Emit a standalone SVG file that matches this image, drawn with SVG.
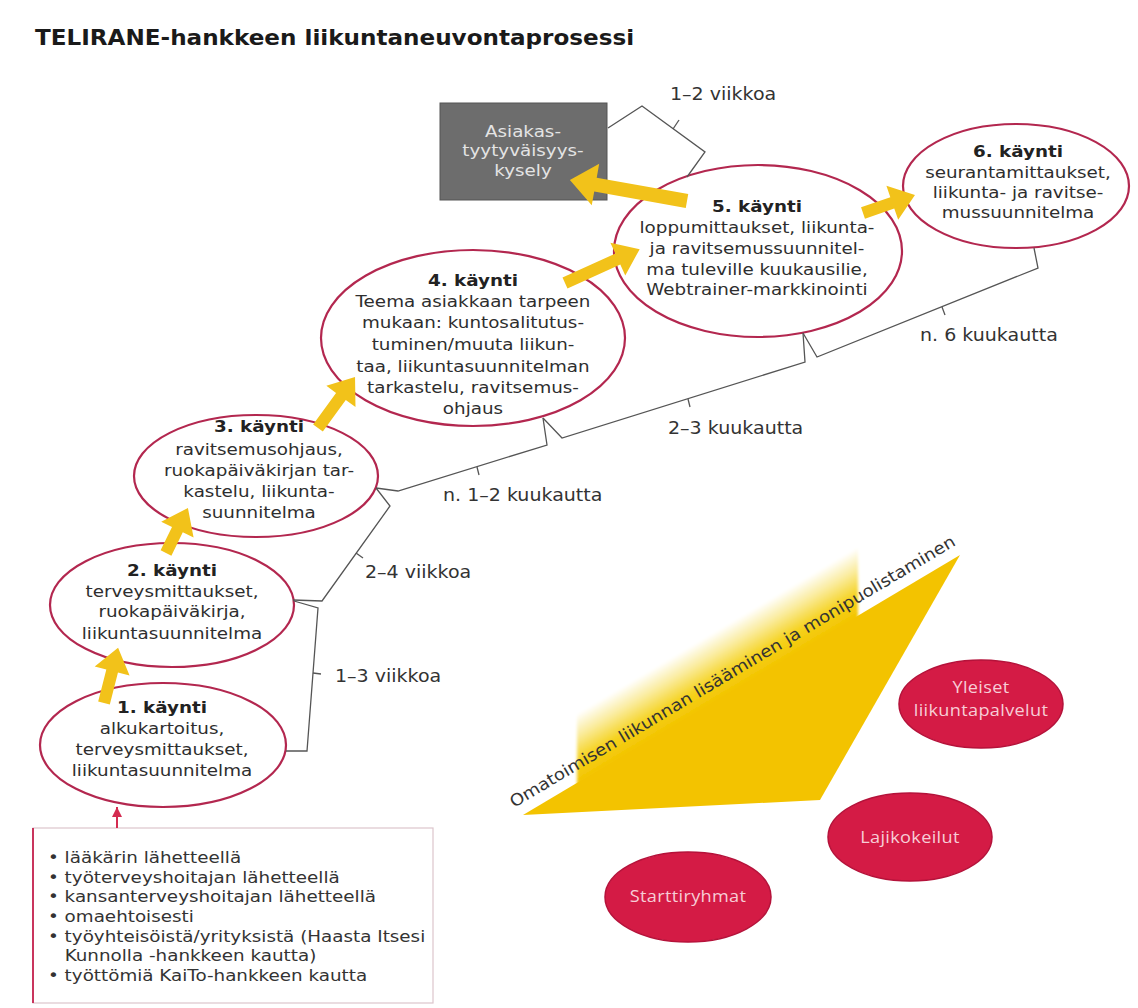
<svg xmlns="http://www.w3.org/2000/svg" width="1138" height="1008" viewBox="0 0 1138 1008">
<defs>
<style>
.e{fill:#fff;stroke:#b3274f;stroke-width:2.2}
.t{font-family:"DejaVu Sans",Verdana,sans-serif;font-size:16.5px;fill:#2e2e2e}
.b{font-weight:bold;fill:#222}
.lb{font-family:"DejaVu Sans",Verdana,sans-serif;font-size:17px;fill:#333}
.br{fill:none;stroke:#555;stroke-width:1.3}
.ya{fill:#f2c21a}
.re{fill:#d41b45;stroke:#b5123a;stroke-width:1.5}
.rt{font-family:"Open Sans","Noto Sans",sans-serif;font-size:16.5px;fill:#f7cdd6;letter-spacing:0.3px}
.gt{font-family:"DejaVu Sans",Verdana,sans-serif;font-size:16.5px;fill:#e4e4e4}
</style>
<linearGradient id="fade" gradientUnits="userSpaceOnUse" x1="717" y1="700" x2="679" y2="636">
<stop offset="0" stop-color="#f3c400"/>
<stop offset="0.25" stop-color="#f5d21e"/>
<stop offset="0.55" stop-color="#faeca0"/>
<stop offset="0.8" stop-color="#ffffff"/>
</linearGradient>
<filter id="soft" x="-10%" y="-10%" width="120%" height="120%">
<feGaussianBlur stdDeviation="1.5"/>
</filter>
<marker id="redhead" viewBox="0 0 10 10" refX="10" refY="5" markerWidth="10" markerHeight="10" markerUnits="userSpaceOnUse" orient="auto">
<path d="M0,0 L10,5 L0,10 z" fill="#d42b50"/>
</marker>
</defs>
<rect width="1138" height="1008" fill="#fff"/>

<text x="0" y="45" transform="translate(35 0) scale(1.1 1)" style="font-family:'DejaVu Sans',Verdana,sans-serif;font-size:21px;font-weight:bold;fill:#1a1a1a">TELIRANE-hankkeen liikuntaneuvontaprosessi</text>

<!-- big yellow arrow -->
<g id="big-arrow">
<polygon points="577,706 858,540 858,620 577,786" fill="url(#fade)" filter="url(#soft)"/>
<polygon points="523,815 960,555 820,800" fill="#f3c300"/>
<text class="t" x="0" y="0" transform="translate(514 808) rotate(-30.75) scale(1.1 1)" style="fill:#333">Omatoimisen liikunnan lisääminen ja monipuolistaminen</text>
</g>

<g id="kysely">
<rect x="440" y="103" width="167" height="97" fill="#6d6d6d" stroke="#555" stroke-width="1"/>
<g transform="translate(523 0) scale(1.11 1)">
<text class="gt" text-anchor="middle"><tspan x="0" y="137">Asiakas-</tspan><tspan x="0" y="156">tyytyväisyys-</tspan><tspan x="0" y="176">kysely</tspan></text>
</g>
</g>

<g id="kaynti1">
<ellipse class="e" cx="163" cy="745" rx="123" ry="62"/>
<g transform="translate(162 0) scale(1.11 1)">
<text class="t" text-anchor="middle"><tspan class="b" x="0" y="713">1. käynti</tspan><tspan x="0" y="734">alkukartoitus,</tspan><tspan x="0" y="755">terveysmittaukset,</tspan><tspan x="0" y="776">liikuntasuunnitelma</tspan></text>
</g>
</g>

<g id="kaynti2">
<ellipse class="e" cx="172" cy="605" rx="122" ry="62"/>
<g transform="translate(172 0) scale(1.11 1)">
<text class="t" text-anchor="middle"><tspan class="b" x="0" y="576">2. käynti</tspan><tspan x="0" y="597">terveysmittaukset,</tspan><tspan x="0" y="617">ruokapäiväkirja,</tspan><tspan x="0" y="639">liikuntasuunnitelma</tspan></text>
</g>
</g>

<g id="kaynti3">
<ellipse class="e" cx="256" cy="476" rx="122" ry="61"/>
<g transform="translate(259 0) scale(1.11 1)">
<text class="t" text-anchor="middle"><tspan class="b" x="0" y="432">3. käynti</tspan><tspan x="0" y="455">ravitsemusohjaus,</tspan><tspan x="0" y="476">ruokapäiväkirjan tar-</tspan><tspan x="0" y="497">kastelu, liikunta-</tspan><tspan x="0" y="518">suunnitelma</tspan></text>
</g>
</g>

<g id="kaynti4">
<ellipse class="e" cx="473" cy="338" rx="152" ry="88"/>
<g transform="translate(473 0) scale(1.11 1)">
<text class="t" text-anchor="middle"><tspan class="b" x="0" y="286">4. käynti</tspan><tspan x="0" y="307">Teema asiakkaan tarpeen</tspan><tspan x="0" y="328">mukaan: kuntosalitutus-</tspan><tspan x="0" y="350">tuminen/muuta liikun-</tspan><tspan x="0" y="372">taa, liikuntasuunnitelman</tspan><tspan x="0" y="393">tarkastelu, ravitsemus-</tspan><tspan x="0" y="414">ohjaus</tspan></text>
</g>
</g>

<g id="kaynti5">
<ellipse class="e" cx="758" cy="251" rx="144" ry="86"/>
<g transform="translate(757 0) scale(1.11 1)">
<text class="t" text-anchor="middle"><tspan class="b" x="0" y="212">5. käynti</tspan><tspan x="0" y="233">loppumittaukset, liikunta-</tspan><tspan x="0" y="254">ja ravitsemussuunnitel-</tspan><tspan x="0" y="275">ma tuleville kuukausilie,</tspan><tspan x="0" y="295">Webtrainer-markkinointi</tspan></text>
</g>
</g>

<g id="kaynti6">
<ellipse class="e" cx="1016" cy="186" rx="113" ry="62"/>
<g transform="translate(1018 0) scale(1.11 1)">
<text class="t" text-anchor="middle"><tspan class="b" x="0" y="157">6. käynti</tspan><tspan x="0" y="178">seurantamittaukset,</tspan><tspan x="0" y="198">liikunta- ja ravitse-</tspan><tspan x="0" y="218">mussuunnitelma</tspan></text>
</g>
</g>

<g id="lahde">
<rect x="33" y="828" width="400" height="175" fill="#fff" stroke="#dcc5cc" stroke-width="1.2"/>
<line x1="33" y1="828" x2="33" y2="1003" stroke="#c9355d" stroke-width="2"/>
<g transform="translate(48 0) scale(1.11 1)">
<text class="t" style="fill:#333"><tspan x="0" y="863">• lääkärin lähetteellä</tspan><tspan x="0" y="883">• työterveyshoitajan lähetteellä</tspan><tspan x="0" y="902">• kansanterveyshoitajan lähetteellä</tspan><tspan x="0" y="922">• omaehtoisesti</tspan><tspan x="0" y="942">• työyhteisöistä/yrityksistä (Haasta Itsesi</tspan><tspan x="15" y="961">Kunnolla -hankkeen kautta)</tspan><tspan x="0" y="981">• työttömiä KaiTo-hankkeen kautta</tspan></text>
</g>
</g>

<g id="yleiset">
<ellipse class="re" cx="981" cy="704" rx="82" ry="44"/>
<g transform="translate(981 0) scale(1.1 1)">
<text class="rt" text-anchor="middle"><tspan x="0" y="693">Yleiset</tspan><tspan x="0" y="716">liikuntapalvelut</tspan></text>
</g>
</g>
<g id="lajikokeilut">
<ellipse class="re" cx="910" cy="837" rx="82" ry="44"/>
<g transform="translate(910 0) scale(1.1 1)">
<text class="rt" text-anchor="middle" x="0" y="843">Lajikokeilut</text>
</g>
</g>
<g id="starttiryhmat">
<ellipse class="re" cx="688" cy="897" rx="83" ry="45"/>
<g transform="translate(688 0) scale(1.1 1)">
<text class="rt" text-anchor="middle" x="0" y="902">Starttiryhmat</text>
</g>
</g>

<g id="connectors">
<!-- brackets -->
<path class="br" d="M608,128 L642,106 L705,152 L687,177"/>
<path class="br" d="M673,129 L679,120"/>
<path class="br" d="M803,333 L817,357 L1038,268 L1034,248"/>
<path class="br" d="M942,307 L945,315"/>
<path class="br" d="M543,418 L562,438 L805,362 L803,333"/>
<path class="br" d="M688,399 L690,407"/>
<path class="br" d="M376,488 L398,491 L547,445 L543,418"/>
<path class="br" d="M477,467 L479,475"/>
<path class="br" d="M293,600 L322,601 L390,506 L376,488"/>
<path class="br" d="M356,553 L363,558"/>
<path class="br" d="M286,751 L307,751 L318,608 L294,601"/>
<path class="br" d="M313,673 L321,674"/>
<!-- labels -->
<text class="lb" x="0" y="100" transform="translate(670 0) scale(1.12 1)">1–2 viikkoa</text>
<text class="lb" x="0" y="341" transform="translate(920 0) scale(1.12 1)">n. 6 kuukautta</text>
<text class="lb" x="0" y="434" transform="translate(668 0) scale(1.12 1)">2–3 kuukautta</text>
<text class="lb" x="0" y="501" transform="translate(443 0) scale(1.12 1)">n. 1–2 kuukautta</text>
<text class="lb" x="0" y="578" transform="translate(365 0) scale(1.12 1)">2–4 viikkoa</text>
<text class="lb" x="0" y="682" transform="translate(335 0) scale(1.12 1)">1–3 viikkoa</text>
<!-- red entry connector -->
<line x1="117" y1="828" x2="117" y2="807" stroke="#d42b50" stroke-width="2" marker-end="url(#redhead)"/>
<!-- yellow arrows -->
<polygon class="ya" transform="translate(104 703) rotate(-75.7)" points="0,-6 33,-6 33,-18 57,0 33,18 33,6 0,6"/>
<polygon class="ya" transform="translate(166 553) rotate(-64)" points="0,-6 26,-6 26,-18 50,0 26,18 26,6 0,6"/>
<polygon class="ya" transform="translate(318 428) rotate(-54)" points="0,-6 39,-6 39,-18 63,0 39,18 39,6 0,6"/>
<polygon class="ya" transform="translate(565 283) rotate(-24.4)" points="0,-6 58,-6 58,-18 82,0 58,18 58,6 0,6"/>
<polygon class="ya" transform="translate(687 201) rotate(-169.8)" points="0,-7 93,-7 93,-21 119,0 93,21 93,7 0,7"/>
<polygon class="ya" transform="translate(863 213) rotate(-19.1)" points="0,-6 31,-6 31,-18 55,0 31,18 31,6 0,6"/>
</g>
</svg>
